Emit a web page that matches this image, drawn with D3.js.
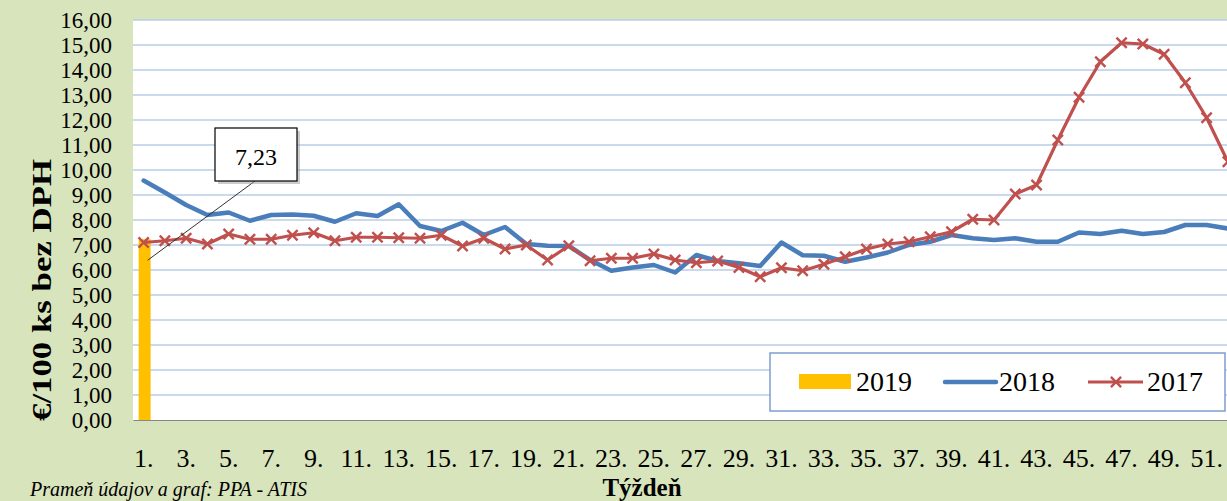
<!DOCTYPE html>
<html>
<head>
<meta charset="utf-8">
<script src="https://cdn.jsdelivr.net/npm/d3@7"></script>
<style>
  body { margin: 0; background: #d8e4bc; }
  svg { display: block; }
  text { font-family: "Liberation Serif", "Times New Roman", serif; fill: #000; }
</style>
</head>
<body>
<svg id="chart"></svg>
<script>
// týždne 1..52
const weeks = d3.range(1, 53);
const tickWeeks = weeks.filter(w => w % 2 === 1);
const yTicks = d3.range(0, 17);

const values2019 = [7.23];
const values2018 = [9.58, 9.1, 8.6, 8.2, 8.3, 7.97, 8.2, 8.22, 8.17, 7.93, 8.27, 8.16, 8.63,
  7.76, 7.56, 7.89, 7.4, 7.72, 7.04, 6.97, 6.96, 6.4, 5.97, 6.1, 6.2, 5.9, 6.6, 6.36, 6.27,
  6.16, 7.1, 6.59, 6.57, 6.33, 6.5, 6.7, 7.0, 7.13, 7.4, 7.27, 7.2, 7.27, 7.13, 7.13, 7.5,
  7.44, 7.57, 7.44, 7.52, 7.8, 7.8, 7.66];
const values2017 = [7.1, 7.17, 7.27, 7.04, 7.44, 7.23, 7.23, 7.39, 7.49, 7.17, 7.31, 7.31,
  7.29, 7.27, 7.39, 6.96, 7.27, 6.84, 7.0, 6.4, 6.97, 6.37, 6.47, 6.47, 6.64, 6.4, 6.29,
  6.36, 6.1, 5.73, 6.09, 5.97, 6.23, 6.53, 6.84, 7.04, 7.13, 7.33, 7.53, 8.03, 8.0, 9.04,
  9.4, 11.2, 12.91, 14.33, 15.09, 15.04, 14.63, 13.49, 12.09, 10.33];

const legendItems = ["2019", "2018", "2017"];

const W = 1227, H = 501;
const svg = d3.select("#chart").attr("width", W).attr("height", H);

svg.append("rect").attr("width", W).attr("height", H).attr("fill", "#d8e4bc");

const plotLeft = 133, plotTop = 20, plotBottom = 420;
const step = 21.26;

const x = d3.scaleBand()
  .domain(weeks)
  .range([plotLeft, plotLeft + weeks.length * step]);

const y = d3.scaleLinear()
  .domain([0, 16])
  .range([plotBottom, plotTop]);

const sk = d3.formatLocale({ decimal: ",", thousands: " ", grouping: [3], currency: ["", "€"] });
const fmt = sk.format(".2f");

// plocha grafu
svg.append("rect")
  .attr("x", plotLeft).attr("y", plotTop)
  .attr("width", W - plotLeft + 20).attr("height", plotBottom - plotTop)
  .attr("fill", "#fff");

// mriežka
svg.append("g")
  .selectAll("line")
  .data(yTicks.filter(t => t > 0))
  .enter().append("line")
  .attr("x1", plotLeft).attr("x2", W + 20)
  .attr("y1", d => y(d)).attr("y2", d => y(d))
  .attr("stroke", "#b9cde5")
  .attr("stroke-width", 1.5);

// osi
const yAxis = svg.append("g")
  .attr("transform", `translate(${plotLeft},0)`)
  .call(d3.axisLeft(y).tickValues(yTicks).tickFormat(fmt).tickSize(0).tickPadding(21));
yAxis.select(".domain").remove();
yAxis.selectAll("text").attr("font-size", 23).attr("font-family", "Liberation Serif");

const xAxis = svg.append("g")
  .attr("transform", `translate(0,${plotBottom})`)
  .call(d3.axisBottom(x).tickValues(tickWeeks).tickFormat(d => d + ".").tickSize(0).tickPadding(29));
xAxis.select(".domain").attr("stroke", "#868686").attr("stroke-width", 1.2);
xAxis.selectAll("text").attr("font-size", 26).attr("font-family", "Liberation Serif");

// 2019 stĺpec
svg.append("g")
  .selectAll("rect")
  .data(values2019)
  .enter().append("rect")
  .attr("x", (d, i) => x(weeks[i]) + x.bandwidth() / 2 - 5)
  .attr("y", d => y(d))
  .attr("width", 12)
  .attr("height", d => plotBottom - y(d))
  .attr("fill", "#ffc000");

// 2018
const line = d3.line()
  .x((d, i) => x(weeks[i]) + x.bandwidth() / 2)
  .y(d => y(d));

svg.append("path")
  .datum(values2018)
  .attr("d", line)
  .attr("fill", "none")
  .attr("stroke", "#4a7ebb")
  .attr("stroke-width", 4.5)
  .attr("stroke-linejoin", "round")
  .attr("stroke-linecap", "round");

// 2017
svg.append("path")
  .datum(values2017)
  .attr("d", line)
  .attr("fill", "none")
  .attr("stroke", "#c0504d")
  .attr("stroke-width", 3.2)
  .attr("stroke-linejoin", "round");

const cross = d3.symbol().type(d3.symbolX).size(70);
svg.append("g")
  .selectAll("path")
  .data(values2017)
  .enter().append("path")
  .attr("transform", (d, i) => `translate(${x(weeks[i]) + x.bandwidth() / 2},${y(d)})`)
  .attr("d", cross)
  .attr("fill", "none")
  .attr("stroke", "#c0504d")
  .attr("stroke-width", 2.4);

// popis hodnoty 2019
const bx = x(weeks[0]) + x.bandwidth() / 2 + 1;
svg.append("line")
  .attr("x1", 255).attr("y1", 181)
  .attr("x2", bx + 3).attr("y2", y(values2019[0]) + 21)
  .attr("stroke", "#333").attr("stroke-width", 1);
svg.append("rect")
  .attr("x", 218).attr("y", 131).attr("width", 82).attr("height", 53)
  .attr("fill", "#999").attr("opacity", 0.5);
svg.append("rect")
  .attr("x", 215).attr("y", 128).attr("width", 82).attr("height", 53)
  .attr("fill", "#fff").attr("stroke", "#000").attr("stroke-width", 1.2);
svg.append("text")
  .attr("x", 256).attr("y", 165)
  .attr("text-anchor", "middle")
  .attr("font-size", 24)
  .text(fmt(values2019[0]));

// legenda
const lg = svg.append("g");
lg.append("rect")
  .attr("x", 770).attr("y", 353).attr("width", 455).attr("height", 58)
  .attr("fill", "#fff").attr("stroke", "#7d9dd0").attr("stroke-width", 1.5);

const legendX = [799, 943, 1088];
const legend = lg.selectAll("g")
  .data(legendItems)
  .enter().append("g")
  .attr("transform", (d, i) => `translate(${legendX[i]},382)`);

legend.each(function (d, i) {
  const g = d3.select(this);
  if (i === 0) {
    g.append("rect").attr("x", 0).attr("y", -8).attr("width", 52).attr("height", 15).attr("fill", "#ffc000");
  } else if (i === 1) {
    g.append("line").attr("x1", 2).attr("x2", 53).attr("stroke", "#4a7ebb")
      .attr("stroke-width", 4.5).attr("stroke-linecap", "round");
  } else {
    g.append("line").attr("x1", 0).attr("x2", 55).attr("stroke", "#c0504d").attr("stroke-width", 3.2);
    g.append("path").attr("transform", "translate(28,0)").attr("d", cross)
      .attr("fill", "none").attr("stroke", "#c0504d").attr("stroke-width", 2.4);
  }
  g.append("text")
    .attr("x", [57, 56, 59][i])
    .attr("y", 9)
    .attr("font-size", 28)
    .text(d);
});

// názvy osí
svg.append("text")
  .attr("transform", "translate(51,290) rotate(-90)")
  .attr("text-anchor", "middle")
  .attr("font-size", 27)
  .attr("font-weight", "bold")
  .attr("textLength", 262)
  .attr("lengthAdjust", "spacingAndGlyphs")
  .text("€/100 ks bez DPH");

svg.append("text")
  .attr("x", 642).attr("y", 496)
  .attr("text-anchor", "middle")
  .attr("font-size", 25)
  .attr("font-weight", "bold")
  .text("Týždeň");

svg.append("text")
  .attr("x", 30).attr("y", 496)
  .attr("font-size", 20)
  .attr("font-style", "italic")
  .text("Prameň údajov a graf: PPA - ATIS");
</script>
</body>
</html>
